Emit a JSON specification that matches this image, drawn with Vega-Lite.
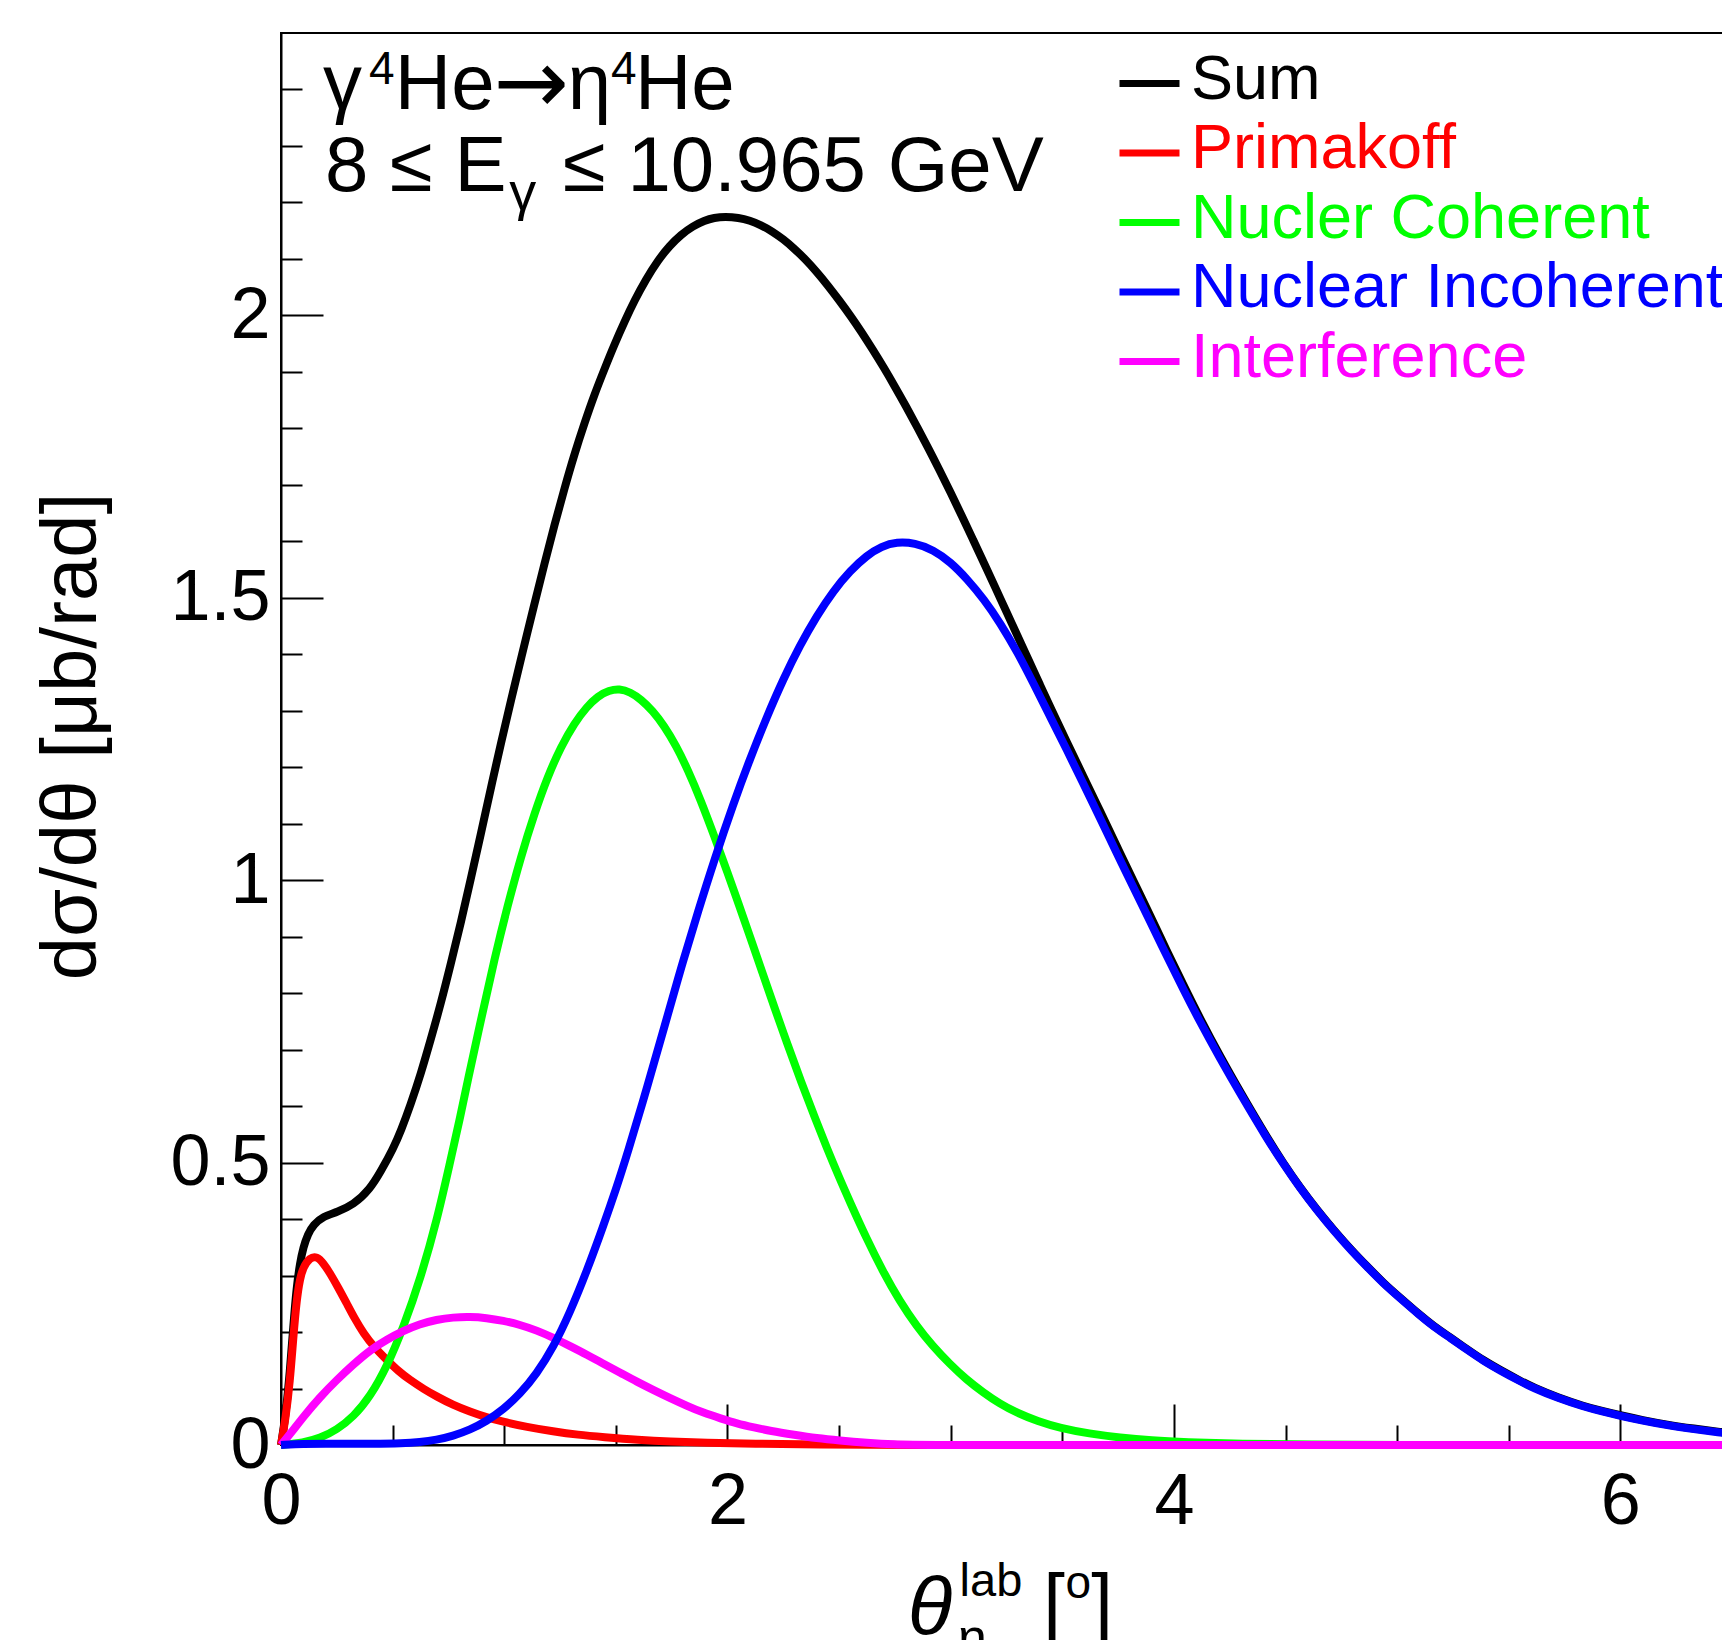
{
  "$schema": "https://vega.github.io/schema/vega-lite/v6.json",
  "width": 1451,
  "height": 1412,
  "autosize": {"type": "none"},
  "padding": {"left": 281, "top": 33, "right": 0, "bottom": 195},
  "background": "white",
  "config": {
    "font": "Liberation Sans",
    "view": {"stroke": "black", "strokeWidth": 2}
  },
  "layer": [
    {
      "data": {
        "values": [
          {"series": "Sum", "theta": 0, "value": 0},
          {"series": "Sum", "theta": 0.02, "value": 0.05},
          {"series": "Sum", "theta": 0.04, "value": 0.13},
          {"series": "Sum", "theta": 0.055, "value": 0.21},
          {"series": "Sum", "theta": 0.07, "value": 0.28},
          {"series": "Sum", "theta": 0.085, "value": 0.322},
          {"series": "Sum", "theta": 0.1, "value": 0.35},
          {"series": "Sum", "theta": 0.12, "value": 0.373},
          {"series": "Sum", "theta": 0.145, "value": 0.39},
          {"series": "Sum", "theta": 0.19, "value": 0.405},
          {"series": "Sum", "theta": 0.249, "value": 0.412},
          {"series": "Sum", "theta": 0.324, "value": 0.425},
          {"series": "Sum", "theta": 0.399, "value": 0.453},
          {"series": "Sum", "theta": 0.448, "value": 0.485},
          {"series": "Sum", "theta": 0.503, "value": 0.525},
          {"series": "Sum", "theta": 0.538, "value": 0.557},
          {"series": "Sum", "theta": 0.58, "value": 0.602},
          {"series": "Sum", "theta": 0.627, "value": 0.658},
          {"series": "Sum", "theta": 0.67, "value": 0.717},
          {"series": "Sum", "theta": 0.717, "value": 0.783},
          {"series": "Sum", "theta": 0.76, "value": 0.851},
          {"series": "Sum", "theta": 0.806, "value": 0.925},
          {"series": "Sum", "theta": 0.85, "value": 1.002},
          {"series": "Sum", "theta": 0.896, "value": 1.083},
          {"series": "Sum", "theta": 0.94, "value": 1.163},
          {"series": "Sum", "theta": 0.986, "value": 1.244},
          {"series": "Sum", "theta": 1.03, "value": 1.318},
          {"series": "Sum", "theta": 1.075, "value": 1.392},
          {"series": "Sum", "theta": 1.135, "value": 1.489},
          {"series": "Sum", "theta": 1.18, "value": 1.56},
          {"series": "Sum", "theta": 1.225, "value": 1.629},
          {"series": "Sum", "theta": 1.27, "value": 1.694},
          {"series": "Sum", "theta": 1.314, "value": 1.754},
          {"series": "Sum", "theta": 1.36, "value": 1.81},
          {"series": "Sum", "theta": 1.404, "value": 1.86},
          {"series": "Sum", "theta": 1.45, "value": 1.906},
          {"series": "Sum", "theta": 1.493, "value": 1.948},
          {"series": "Sum", "theta": 1.54, "value": 1.99},
          {"series": "Sum", "theta": 1.583, "value": 2.026},
          {"series": "Sum", "theta": 1.635, "value": 2.064},
          {"series": "Sum", "theta": 1.688, "value": 2.097},
          {"series": "Sum", "theta": 1.74, "value": 2.123},
          {"series": "Sum", "theta": 1.792, "value": 2.143},
          {"series": "Sum", "theta": 1.845, "value": 2.158},
          {"series": "Sum", "theta": 1.897, "value": 2.168},
          {"series": "Sum", "theta": 1.94, "value": 2.173},
          {"series": "Sum", "theta": 1.99, "value": 2.175},
          {"series": "Sum", "theta": 2.05, "value": 2.173},
          {"series": "Sum", "theta": 2.1, "value": 2.168},
          {"series": "Sum", "theta": 2.15, "value": 2.16},
          {"series": "Sum", "theta": 2.2, "value": 2.149},
          {"series": "Sum", "theta": 2.25, "value": 2.135},
          {"series": "Sum", "theta": 2.3, "value": 2.118},
          {"series": "Sum", "theta": 2.35, "value": 2.099},
          {"series": "Sum", "theta": 2.4, "value": 2.077},
          {"series": "Sum", "theta": 2.45, "value": 2.053},
          {"series": "Sum", "theta": 2.5, "value": 2.027},
          {"series": "Sum", "theta": 2.55, "value": 2.0},
          {"series": "Sum", "theta": 2.6, "value": 1.971},
          {"series": "Sum", "theta": 2.65, "value": 1.94},
          {"series": "Sum", "theta": 2.7, "value": 1.908},
          {"series": "Sum", "theta": 2.75, "value": 1.874},
          {"series": "Sum", "theta": 2.8, "value": 1.839},
          {"series": "Sum", "theta": 2.85, "value": 1.802},
          {"series": "Sum", "theta": 2.9, "value": 1.765},
          {"series": "Sum", "theta": 2.95, "value": 1.726},
          {"series": "Sum", "theta": 3.0, "value": 1.686},
          {"series": "Sum", "theta": 3.05, "value": 1.645},
          {"series": "Sum", "theta": 3.1, "value": 1.603},
          {"series": "Sum", "theta": 3.15, "value": 1.561},
          {"series": "Sum", "theta": 3.2, "value": 1.518},
          {"series": "Sum", "theta": 3.25, "value": 1.475},
          {"series": "Sum", "theta": 3.3, "value": 1.432},
          {"series": "Sum", "theta": 3.35, "value": 1.389},
          {"series": "Sum", "theta": 3.4, "value": 1.346},
          {"series": "Sum", "theta": 3.45, "value": 1.303},
          {"series": "Sum", "theta": 3.52, "value": 1.245},
          {"series": "Sum", "theta": 3.594, "value": 1.184},
          {"series": "Sum", "theta": 3.67, "value": 1.122},
          {"series": "Sum", "theta": 3.744, "value": 1.06},
          {"series": "Sum", "theta": 3.82, "value": 0.998},
          {"series": "Sum", "theta": 3.893, "value": 0.938},
          {"series": "Sum", "theta": 3.968, "value": 0.875},
          {"series": "Sum", "theta": 4.043, "value": 0.814},
          {"series": "Sum", "theta": 4.117, "value": 0.755},
          {"series": "Sum", "theta": 4.207, "value": 0.688},
          {"series": "Sum", "theta": 4.3, "value": 0.623},
          {"series": "Sum", "theta": 4.416, "value": 0.545},
          {"series": "Sum", "theta": 4.49, "value": 0.499},
          {"series": "Sum", "theta": 4.565, "value": 0.456},
          {"series": "Sum", "theta": 4.64, "value": 0.417},
          {"series": "Sum", "theta": 4.715, "value": 0.381},
          {"series": "Sum", "theta": 4.8, "value": 0.343},
          {"series": "Sum", "theta": 4.864, "value": 0.317},
          {"series": "Sum", "theta": 4.938, "value": 0.287},
          {"series": "Sum", "theta": 5.013, "value": 0.261},
          {"series": "Sum", "theta": 5.1, "value": 0.231},
          {"series": "Sum", "theta": 5.162, "value": 0.211},
          {"series": "Sum", "theta": 5.24, "value": 0.19},
          {"series": "Sum", "theta": 5.312, "value": 0.17},
          {"series": "Sum", "theta": 5.386, "value": 0.15},
          {"series": "Sum", "theta": 5.461, "value": 0.133},
          {"series": "Sum", "theta": 5.55, "value": 0.114},
          {"series": "Sum", "theta": 5.61, "value": 0.102},
          {"series": "Sum", "theta": 5.72, "value": 0.084},
          {"series": "Sum", "theta": 5.834, "value": 0.069},
          {"series": "Sum", "theta": 5.92, "value": 0.06},
          {"series": "Sum", "theta": 5.996, "value": 0.053},
          {"series": "Sum", "theta": 6.1, "value": 0.044},
          {"series": "Sum", "theta": 6.208, "value": 0.036},
          {"series": "Sum", "theta": 6.33, "value": 0.029},
          {"series": "Sum", "theta": 6.447, "value": 0.023},
          {"series": "Sum", "theta": 6.5, "value": 0.021},

          {"series": "Primakoff", "theta": 0, "value": 0},
          {"series": "Primakoff", "theta": 0.02, "value": 0.045},
          {"series": "Primakoff", "theta": 0.04, "value": 0.112},
          {"series": "Primakoff", "theta": 0.055, "value": 0.19},
          {"series": "Primakoff", "theta": 0.07, "value": 0.257},
          {"series": "Primakoff", "theta": 0.085, "value": 0.295},
          {"series": "Primakoff", "theta": 0.1, "value": 0.315},
          {"series": "Primakoff", "theta": 0.13, "value": 0.332},
          {"series": "Primakoff", "theta": 0.16, "value": 0.334},
          {"series": "Primakoff", "theta": 0.19, "value": 0.322},
          {"series": "Primakoff", "theta": 0.22, "value": 0.304},
          {"series": "Primakoff", "theta": 0.256, "value": 0.279},
          {"series": "Primakoff", "theta": 0.294, "value": 0.251},
          {"series": "Primakoff", "theta": 0.33, "value": 0.224},
          {"series": "Primakoff", "theta": 0.369, "value": 0.198},
          {"series": "Primakoff", "theta": 0.42, "value": 0.172},
          {"series": "Primakoff", "theta": 0.473, "value": 0.151},
          {"series": "Primakoff", "theta": 0.525, "value": 0.131},
          {"series": "Primakoff", "theta": 0.578, "value": 0.115},
          {"series": "Primakoff", "theta": 0.64, "value": 0.099},
          {"series": "Primakoff", "theta": 0.697, "value": 0.086},
          {"series": "Primakoff", "theta": 0.77, "value": 0.071},
          {"series": "Primakoff", "theta": 0.847, "value": 0.059},
          {"series": "Primakoff", "theta": 0.92, "value": 0.049},
          {"series": "Primakoff", "theta": 0.996, "value": 0.041},
          {"series": "Primakoff", "theta": 1.1, "value": 0.032},
          {"series": "Primakoff", "theta": 1.22, "value": 0.024},
          {"series": "Primakoff", "theta": 1.33, "value": 0.018},
          {"series": "Primakoff", "theta": 1.444, "value": 0.014},
          {"series": "Primakoff", "theta": 1.6, "value": 0.009},
          {"series": "Primakoff", "theta": 1.743, "value": 0.006},
          {"series": "Primakoff", "theta": 1.9, "value": 0.004},
          {"series": "Primakoff", "theta": 2.116, "value": 0.002},
          {"series": "Primakoff", "theta": 2.4, "value": 0.001},
          {"series": "Primakoff", "theta": 2.8, "value": 0},
          {"series": "Primakoff", "theta": 3.5, "value": 0},
          {"series": "Primakoff", "theta": 4.5, "value": 0},
          {"series": "Primakoff", "theta": 5.5, "value": 0},
          {"series": "Primakoff", "theta": 6.5, "value": 0},

          {"series": "Nucler Coherent", "theta": 0, "value": 0},
          {"series": "Nucler Coherent", "theta": 0.1, "value": 0.004},
          {"series": "Nucler Coherent", "theta": 0.175, "value": 0.012},
          {"series": "Nucler Coherent", "theta": 0.25, "value": 0.027},
          {"series": "Nucler Coherent", "theta": 0.325, "value": 0.05},
          {"series": "Nucler Coherent", "theta": 0.4, "value": 0.086},
          {"series": "Nucler Coherent", "theta": 0.475, "value": 0.139},
          {"series": "Nucler Coherent", "theta": 0.55, "value": 0.21},
          {"series": "Nucler Coherent", "theta": 0.625, "value": 0.295},
          {"series": "Nucler Coherent", "theta": 0.7, "value": 0.4},
          {"series": "Nucler Coherent", "theta": 0.757, "value": 0.5},
          {"series": "Nucler Coherent", "theta": 0.8, "value": 0.575},
          {"series": "Nucler Coherent", "theta": 0.836, "value": 0.645},
          {"series": "Nucler Coherent", "theta": 0.9, "value": 0.76},
          {"series": "Nucler Coherent", "theta": 0.956, "value": 0.86},
          {"series": "Nucler Coherent", "theta": 1.015, "value": 0.955},
          {"series": "Nucler Coherent", "theta": 1.075, "value": 1.042},
          {"series": "Nucler Coherent", "theta": 1.135, "value": 1.118},
          {"series": "Nucler Coherent", "theta": 1.195, "value": 1.184},
          {"series": "Nucler Coherent", "theta": 1.255, "value": 1.237},
          {"series": "Nucler Coherent", "theta": 1.314, "value": 1.278},
          {"series": "Nucler Coherent", "theta": 1.37, "value": 1.307},
          {"series": "Nucler Coherent", "theta": 1.419, "value": 1.326},
          {"series": "Nucler Coherent", "theta": 1.47, "value": 1.336},
          {"series": "Nucler Coherent", "theta": 1.516, "value": 1.339},
          {"series": "Nucler Coherent", "theta": 1.565, "value": 1.333},
          {"series": "Nucler Coherent", "theta": 1.613, "value": 1.32},
          {"series": "Nucler Coherent", "theta": 1.665, "value": 1.3},
          {"series": "Nucler Coherent", "theta": 1.717, "value": 1.273},
          {"series": "Nucler Coherent", "theta": 1.77, "value": 1.238},
          {"series": "Nucler Coherent", "theta": 1.822, "value": 1.196},
          {"series": "Nucler Coherent", "theta": 1.88, "value": 1.142},
          {"series": "Nucler Coherent", "theta": 1.941, "value": 1.078},
          {"series": "Nucler Coherent", "theta": 2.0, "value": 1.014},
          {"series": "Nucler Coherent", "theta": 2.05, "value": 0.958},
          {"series": "Nucler Coherent", "theta": 2.101, "value": 0.9},
          {"series": "Nucler Coherent", "theta": 2.155, "value": 0.838},
          {"series": "Nucler Coherent", "theta": 2.21, "value": 0.775},
          {"series": "Nucler Coherent", "theta": 2.27, "value": 0.708},
          {"series": "Nucler Coherent", "theta": 2.33, "value": 0.643},
          {"series": "Nucler Coherent", "theta": 2.39, "value": 0.581},
          {"series": "Nucler Coherent", "theta": 2.445, "value": 0.526},
          {"series": "Nucler Coherent", "theta": 2.5, "value": 0.474},
          {"series": "Nucler Coherent", "theta": 2.549, "value": 0.43},
          {"series": "Nucler Coherent", "theta": 2.62, "value": 0.368},
          {"series": "Nucler Coherent", "theta": 2.698, "value": 0.306},
          {"series": "Nucler Coherent", "theta": 2.77, "value": 0.256},
          {"series": "Nucler Coherent", "theta": 2.848, "value": 0.21},
          {"series": "Nucler Coherent", "theta": 2.92, "value": 0.175},
          {"series": "Nucler Coherent", "theta": 2.997, "value": 0.143},
          {"series": "Nucler Coherent", "theta": 3.07, "value": 0.116},
          {"series": "Nucler Coherent", "theta": 3.146, "value": 0.093},
          {"series": "Nucler Coherent", "theta": 3.22, "value": 0.073},
          {"series": "Nucler Coherent", "theta": 3.296, "value": 0.057},
          {"series": "Nucler Coherent", "theta": 3.39, "value": 0.042},
          {"series": "Nucler Coherent", "theta": 3.49, "value": 0.03},
          {"series": "Nucler Coherent", "theta": 3.62, "value": 0.02},
          {"series": "Nucler Coherent", "theta": 3.759, "value": 0.013},
          {"series": "Nucler Coherent", "theta": 3.9, "value": 0.008},
          {"series": "Nucler Coherent", "theta": 4.05, "value": 0.005},
          {"series": "Nucler Coherent", "theta": 4.3, "value": 0.002},
          {"series": "Nucler Coherent", "theta": 4.6, "value": 0.001},
          {"series": "Nucler Coherent", "theta": 5.0, "value": 0},
          {"series": "Nucler Coherent", "theta": 5.5, "value": 0},
          {"series": "Nucler Coherent", "theta": 6.0, "value": 0},
          {"series": "Nucler Coherent", "theta": 6.5, "value": 0},

          {"series": "Interference", "theta": 0, "value": 0},
          {"series": "Interference", "theta": 0.05, "value": 0.024},
          {"series": "Interference", "theta": 0.1, "value": 0.05},
          {"series": "Interference", "theta": 0.175, "value": 0.085},
          {"series": "Interference", "theta": 0.249, "value": 0.115},
          {"series": "Interference", "theta": 0.325, "value": 0.143},
          {"series": "Interference", "theta": 0.399, "value": 0.168},
          {"series": "Interference", "theta": 0.475, "value": 0.187},
          {"series": "Interference", "theta": 0.548, "value": 0.202},
          {"series": "Interference", "theta": 0.62, "value": 0.214},
          {"series": "Interference", "theta": 0.697, "value": 0.222},
          {"series": "Interference", "theta": 0.77, "value": 0.226},
          {"series": "Interference", "theta": 0.847, "value": 0.227},
          {"series": "Interference", "theta": 0.92, "value": 0.225},
          {"series": "Interference", "theta": 0.996, "value": 0.22},
          {"series": "Interference", "theta": 1.07, "value": 0.213},
          {"series": "Interference", "theta": 1.145, "value": 0.203},
          {"series": "Interference", "theta": 1.22, "value": 0.19},
          {"series": "Interference", "theta": 1.295, "value": 0.175},
          {"series": "Interference", "theta": 1.37, "value": 0.16},
          {"series": "Interference", "theta": 1.444, "value": 0.144},
          {"series": "Interference", "theta": 1.52, "value": 0.128},
          {"series": "Interference", "theta": 1.594, "value": 0.112},
          {"series": "Interference", "theta": 1.67, "value": 0.097},
          {"series": "Interference", "theta": 1.743, "value": 0.083},
          {"series": "Interference", "theta": 1.82, "value": 0.069},
          {"series": "Interference", "theta": 1.892, "value": 0.057},
          {"series": "Interference", "theta": 1.97, "value": 0.047},
          {"series": "Interference", "theta": 2.042, "value": 0.038},
          {"series": "Interference", "theta": 2.12, "value": 0.031},
          {"series": "Interference", "theta": 2.191, "value": 0.025},
          {"series": "Interference", "theta": 2.3, "value": 0.018},
          {"series": "Interference", "theta": 2.4, "value": 0.012},
          {"series": "Interference", "theta": 2.5, "value": 0.008},
          {"series": "Interference", "theta": 2.624, "value": 0.004},
          {"series": "Interference", "theta": 2.75, "value": 0.001},
          {"series": "Interference", "theta": 2.85, "value": 0},
          {"series": "Interference", "theta": 3.5, "value": 0},
          {"series": "Interference", "theta": 4.5, "value": 0},
          {"series": "Interference", "theta": 5.5, "value": 0},
          {"series": "Interference", "theta": 6.5, "value": 0},

          {"series": "Nuclear Incoherent", "theta": 0, "value": 0},
          {"series": "Nuclear Incoherent", "theta": 0.1, "value": 0.002},
          {"series": "Nuclear Incoherent", "theta": 0.2, "value": 0.002},
          {"series": "Nuclear Incoherent", "theta": 0.3, "value": 0.002},
          {"series": "Nuclear Incoherent", "theta": 0.4, "value": 0.002},
          {"series": "Nuclear Incoherent", "theta": 0.548, "value": 0.003},
          {"series": "Nuclear Incoherent", "theta": 0.62, "value": 0.005},
          {"series": "Nuclear Incoherent", "theta": 0.697, "value": 0.009},
          {"series": "Nuclear Incoherent", "theta": 0.77, "value": 0.016},
          {"series": "Nuclear Incoherent", "theta": 0.847, "value": 0.027},
          {"series": "Nuclear Incoherent", "theta": 0.92, "value": 0.042},
          {"series": "Nuclear Incoherent", "theta": 0.996, "value": 0.063},
          {"series": "Nuclear Incoherent", "theta": 1.07, "value": 0.09},
          {"series": "Nuclear Incoherent", "theta": 1.145, "value": 0.126},
          {"series": "Nuclear Incoherent", "theta": 1.22, "value": 0.173},
          {"series": "Nuclear Incoherent", "theta": 1.295, "value": 0.235},
          {"series": "Nuclear Incoherent", "theta": 1.37, "value": 0.308},
          {"series": "Nuclear Incoherent", "theta": 1.444, "value": 0.388},
          {"series": "Nuclear Incoherent", "theta": 1.5, "value": 0.452},
          {"series": "Nuclear Incoherent", "theta": 1.549, "value": 0.512},
          {"series": "Nuclear Incoherent", "theta": 1.643, "value": 0.637},
          {"series": "Nuclear Incoherent", "theta": 1.72, "value": 0.744},
          {"series": "Nuclear Incoherent", "theta": 1.792, "value": 0.845},
          {"series": "Nuclear Incoherent", "theta": 1.87, "value": 0.947},
          {"series": "Nuclear Incoherent", "theta": 1.941, "value": 1.036},
          {"series": "Nuclear Incoherent", "theta": 2.026, "value": 1.135},
          {"series": "Nuclear Incoherent", "theta": 2.1, "value": 1.214},
          {"series": "Nuclear Incoherent", "theta": 2.176, "value": 1.289},
          {"series": "Nuclear Incoherent", "theta": 2.25, "value": 1.356},
          {"series": "Nuclear Incoherent", "theta": 2.325, "value": 1.416},
          {"series": "Nuclear Incoherent", "theta": 2.4, "value": 1.468},
          {"series": "Nuclear Incoherent", "theta": 2.474, "value": 1.512},
          {"series": "Nuclear Incoherent", "theta": 2.55, "value": 1.548},
          {"series": "Nuclear Incoherent", "theta": 2.624, "value": 1.575},
          {"series": "Nuclear Incoherent", "theta": 2.69, "value": 1.591},
          {"series": "Nuclear Incoherent", "theta": 2.758, "value": 1.599},
          {"series": "Nuclear Incoherent", "theta": 2.84, "value": 1.597},
          {"series": "Nuclear Incoherent", "theta": 2.922, "value": 1.585},
          {"series": "Nuclear Incoherent", "theta": 3.0, "value": 1.563},
          {"series": "Nuclear Incoherent", "theta": 3.072, "value": 1.534},
          {"series": "Nuclear Incoherent", "theta": 3.15, "value": 1.497},
          {"series": "Nuclear Incoherent", "theta": 3.221, "value": 1.456},
          {"series": "Nuclear Incoherent", "theta": 3.3, "value": 1.403},
          {"series": "Nuclear Incoherent", "theta": 3.37, "value": 1.349},
          {"series": "Nuclear Incoherent", "theta": 3.445, "value": 1.29},
          {"series": "Nuclear Incoherent", "theta": 3.52, "value": 1.231},
          {"series": "Nuclear Incoherent", "theta": 3.594, "value": 1.171},
          {"series": "Nuclear Incoherent", "theta": 3.67, "value": 1.109},
          {"series": "Nuclear Incoherent", "theta": 3.744, "value": 1.048},
          {"series": "Nuclear Incoherent", "theta": 3.82, "value": 0.986},
          {"series": "Nuclear Incoherent", "theta": 3.893, "value": 0.927},
          {"series": "Nuclear Incoherent", "theta": 3.968, "value": 0.866},
          {"series": "Nuclear Incoherent", "theta": 4.043, "value": 0.806},
          {"series": "Nuclear Incoherent", "theta": 4.117, "value": 0.749},
          {"series": "Nuclear Incoherent", "theta": 4.207, "value": 0.684},
          {"series": "Nuclear Incoherent", "theta": 4.3, "value": 0.62},
          {"series": "Nuclear Incoherent", "theta": 4.416, "value": 0.543},
          {"series": "Nuclear Incoherent", "theta": 4.49, "value": 0.498},
          {"series": "Nuclear Incoherent", "theta": 4.565, "value": 0.455},
          {"series": "Nuclear Incoherent", "theta": 4.64, "value": 0.416},
          {"series": "Nuclear Incoherent", "theta": 4.715, "value": 0.38},
          {"series": "Nuclear Incoherent", "theta": 4.8, "value": 0.342},
          {"series": "Nuclear Incoherent", "theta": 4.864, "value": 0.316},
          {"series": "Nuclear Incoherent", "theta": 4.938, "value": 0.286},
          {"series": "Nuclear Incoherent", "theta": 5.013, "value": 0.26},
          {"series": "Nuclear Incoherent", "theta": 5.1, "value": 0.23},
          {"series": "Nuclear Incoherent", "theta": 5.162, "value": 0.21},
          {"series": "Nuclear Incoherent", "theta": 5.24, "value": 0.189},
          {"series": "Nuclear Incoherent", "theta": 5.312, "value": 0.169},
          {"series": "Nuclear Incoherent", "theta": 5.386, "value": 0.149},
          {"series": "Nuclear Incoherent", "theta": 5.461, "value": 0.132},
          {"series": "Nuclear Incoherent", "theta": 5.55, "value": 0.113},
          {"series": "Nuclear Incoherent", "theta": 5.61, "value": 0.101},
          {"series": "Nuclear Incoherent", "theta": 5.72, "value": 0.083},
          {"series": "Nuclear Incoherent", "theta": 5.834, "value": 0.068},
          {"series": "Nuclear Incoherent", "theta": 5.92, "value": 0.059},
          {"series": "Nuclear Incoherent", "theta": 5.996, "value": 0.052},
          {"series": "Nuclear Incoherent", "theta": 6.1, "value": 0.043},
          {"series": "Nuclear Incoherent", "theta": 6.208, "value": 0.035},
          {"series": "Nuclear Incoherent", "theta": 6.33, "value": 0.028},
          {"series": "Nuclear Incoherent", "theta": 6.447, "value": 0.022},
          {"series": "Nuclear Incoherent", "theta": 6.5, "value": 0.02}
        ]
      },
      "mark": {"type": "line", "strokeWidth": 8, "interpolate": "basis"},
      "encoding": {
        "x": {
          "field": "theta", "type": "quantitative",
          "scale": {"domain": [0, 6.5], "nice": false, "zero": false},
          "axis": {
            "title": null,
            "values": [0, 0.5, 1, 1.5, 2, 2.5, 3, 3.5, 4, 4.5, 5, 5.5, 6, 6.5],
            "tickSize": {"condition": {"test": "datum.value % 2 === 0", "value": -41}, "value": -20},
            "labelExpr": "datum.value % 2 === 0 ? toString(datum.value) : ''",
            "labelFont": "Liberation Sans", "labelFontSize": 72, "labelColor": "black",
            "labelPadding": 62, "labelFlush": false, "labelOverlap": false, "labelBound": false,
            "tickColor": "black", "tickWidth": 2, "domainColor": "black", "domainWidth": 2, "grid": false
          }
        },
        "y": {
          "field": "value", "type": "quantitative",
          "scale": {"domain": [0, 2.5], "nice": false, "zero": false},
          "axis": {
            "title": "dσ/dθ [μb/rad]",
            "titleFont": "Liberation Sans", "titleFontSize": 78, "titleFontWeight": "normal", "titleColor": "black",
            "titleX": -186, "titleY": 703, "titleAngle": 270, "titleAlign": "center", "titleBaseline": "alphabetic",
            "values": [0, 0.1, 0.2, 0.3, 0.4, 0.5, 0.6, 0.7, 0.8, 0.9, 1, 1.1, 1.2, 1.3, 1.4, 1.5, 1.6, 1.7, 1.8, 1.9, 2, 2.1, 2.2, 2.3, 2.4],
            "tickSize": {"condition": {"test": "datum.value % 0.5 === 0", "value": -42}, "value": -21},
            "labelExpr": "datum.value % 0.5 === 0 ? toString(datum.value) : ''",
            "labelFont": "Liberation Sans", "labelFontSize": 72, "labelColor": "black",
            "labelPadding": 53, "labelFlush": false, "labelOverlap": false, "labelBound": false,
            "tickColor": "black", "tickWidth": 2, "domainColor": "black", "domainWidth": 2, "grid": false
          }
        },
        "color": {
          "field": "series", "type": "nominal",
          "scale": {
            "domain": ["Sum", "Primakoff", "Nucler Coherent", "Nuclear Incoherent", "Interference"],
            "range": ["#000000", "#ff0000", "#00ff00", "#0000ff", "#ff00ff"]
          },
          "legend": {
            "title": null, "orient": "none", "legendX": 835, "legendY": 17,
            "symbolType": "stroke", "symbolSize": 3600, "symbolStrokeWidth": 7,
            "labelFont": "Liberation Sans", "labelFontSize": 63, "labelOffset": 8, "labelLimit": 0,
            "rowPadding": 5.5, "padding": 0, "offset": 0,
            "encode": {"labels": {"update": {"fill": {"scale": "color", "field": "value"}, "dy": {"value": -4}}}}
          }
        }
      }
    },
    {
      "data": {"values": [{}]},
      "mark": {"type": "text", "text": "γ", "fontSize": 78, "align": "left", "baseline": "alphabetic", "color": "black"},
      "encoding": {"x": {"datum": 0.188, "type": "quantitative"}, "y": {"datum": 2.365, "type": "quantitative"}}
    },
    {
      "data": {"values": [{}]},
      "mark": {"type": "text", "text": "4", "fontSize": 46, "align": "left", "baseline": "alphabetic", "color": "black"},
      "encoding": {"x": {"datum": 0.394, "type": "quantitative"}, "y": {"datum": 2.409, "type": "quantitative"}}
    },
    {
      "data": {"values": [{}]},
      "mark": {"type": "text", "text": "He", "fontSize": 78, "align": "left", "baseline": "alphabetic", "color": "black"},
      "encoding": {"x": {"datum": 0.51, "type": "quantitative"}, "y": {"datum": 2.365, "type": "quantitative"}}
    },
    {
      "data": {"values": [{}]},
      "mark": {"type": "text", "text": "→", "font": "DejaVu Sans", "fontSize": 90, "align": "left", "baseline": "alphabetic", "color": "black"},
      "encoding": {"x": {"datum": 0.952, "type": "quantitative"}, "y": {"datum": 2.358, "type": "quantitative"}}
    },
    {
      "data": {"values": [{}]},
      "mark": {"type": "text", "text": "η", "fontSize": 78, "align": "left", "baseline": "alphabetic", "color": "black"},
      "encoding": {"x": {"datum": 1.285, "type": "quantitative"}, "y": {"datum": 2.365, "type": "quantitative"}}
    },
    {
      "data": {"values": [{}]},
      "mark": {"type": "text", "text": "4", "fontSize": 46, "align": "left", "baseline": "alphabetic", "color": "black"},
      "encoding": {"x": {"datum": 1.478, "type": "quantitative"}, "y": {"datum": 2.409, "type": "quantitative"}}
    },
    {
      "data": {"values": [{}]},
      "mark": {"type": "text", "text": "He", "fontSize": 78, "align": "left", "baseline": "alphabetic", "color": "black"},
      "encoding": {"x": {"datum": 1.586, "type": "quantitative"}, "y": {"datum": 2.365, "type": "quantitative"}}
    },
    {
      "data": {"values": [{}]},
      "mark": {"type": "text", "text": "8 ≤ E", "fontSize": 78, "align": "left", "baseline": "alphabetic", "color": "black"},
      "encoding": {"x": {"datum": 0.197, "type": "quantitative"}, "y": {"datum": 2.2197, "type": "quantitative"}}
    },
    {
      "data": {"values": [{}]},
      "mark": {"type": "text", "text": "γ", "fontSize": 54, "align": "left", "baseline": "alphabetic", "color": "black"},
      "encoding": {"x": {"datum": 1.022, "type": "quantitative"}, "y": {"datum": 2.187, "type": "quantitative"}}
    },
    {
      "data": {"values": [{}]},
      "mark": {"type": "text", "text": "≤ 10.965 GeV", "fontSize": 78, "align": "left", "baseline": "alphabetic", "color": "black"},
      "encoding": {"x": {"datum": 1.263, "type": "quantitative"}, "y": {"datum": 2.2197, "type": "quantitative"}}
    },
    {
      "data": {"values": [{}]},
      "mark": {"type": "text", "text": "θ", "fontSize": 82, "fontStyle": "italic", "align": "left", "baseline": "alphabetic", "color": "black"},
      "encoding": {"x": {"datum": 2.808, "type": "quantitative"}, "y": {"datum": -0.335, "type": "quantitative"}}
    },
    {
      "data": {"values": [{}]},
      "mark": {"type": "text", "text": "lab", "fontSize": 47, "align": "left", "baseline": "alphabetic", "color": "black"},
      "encoding": {"x": {"datum": 3.04, "type": "quantitative"}, "y": {"datum": -0.268, "type": "quantitative"}}
    },
    {
      "data": {"values": [{}]},
      "mark": {"type": "text", "text": "η", "fontSize": 52, "align": "left", "baseline": "alphabetic", "color": "black"},
      "encoding": {"x": {"datum": 3.033, "type": "quantitative"}, "y": {"datum": -0.372, "type": "quantitative"}}
    },
    {
      "data": {"values": [{}]},
      "mark": {"type": "text", "text": "[", "fontSize": 78, "align": "left", "baseline": "alphabetic", "color": "black"},
      "encoding": {"x": {"datum": 3.415, "type": "quantitative"}, "y": {"datum": -0.325, "type": "quantitative"}}
    },
    {
      "data": {"values": [{}]},
      "mark": {"type": "text", "text": "o", "fontSize": 46, "align": "left", "baseline": "alphabetic", "color": "black"},
      "encoding": {"x": {"datum": 3.514, "type": "quantitative"}, "y": {"datum": -0.271, "type": "quantitative"}}
    },
    {
      "data": {"values": [{}]},
      "mark": {"type": "text", "text": "]", "fontSize": 78, "align": "left", "baseline": "alphabetic", "color": "black"},
      "encoding": {"x": {"datum": 3.63, "type": "quantitative"}, "y": {"datum": -0.325, "type": "quantitative"}}
    }
  ]
}
